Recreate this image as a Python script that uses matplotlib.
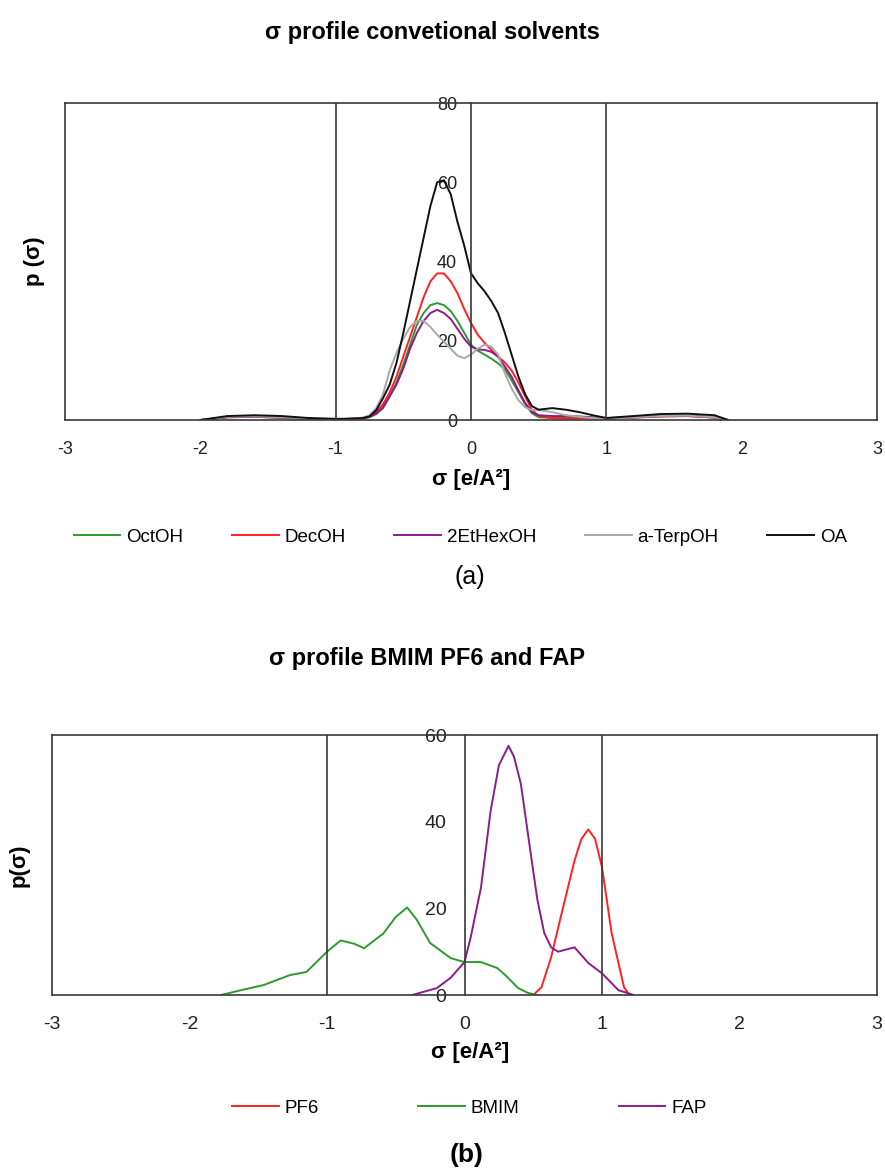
import matplotlib.pyplot as plt
from matplotlib.lines import Line2D

plt.rcParams['font.family'] = ['Liberation Sans', 'DejaVu Sans']

# ---- panel (a): conventional solvents ----
sigma_a = [-2.0, -1.8, -1.6, -1.4, -1.2, -1.0, -0.9, -0.8, -0.75, -0.7, -0.65, -0.6,
           -0.55, -0.5, -0.45, -0.4, -0.35, -0.3, -0.25, -0.2, -0.15, -0.1, -0.05, 0.0,
           0.05, 0.1, 0.15, 0.2, 0.25, 0.3, 0.35, 0.4, 0.45, 0.5, 0.6, 0.7, 0.8, 0.9,
           1.0, 1.2, 1.4, 1.6, 1.8, 1.9]
octoh = [0, 0.7, 0.8, 0.6, 0.3, 0.2, 0.3, 0.4, 0.7, 1.5, 3, 6,
         9.5, 14, 19, 24, 27, 29, 29.5, 29, 27.5, 25, 22, 19,
         17.5, 16.5, 15.5, 14.3, 12.8, 10, 7, 4, 1.7, 0.7, 0.5, 0.6, 0.6, 0.4,
         0.3, 0.6, 0.9, 1.0, 0.6, 0]
decoh = [0, 0.7, 0.8, 0.6, 0.3, 0.2, 0.3, 0.5, 0.8, 2, 4, 7,
         11, 16, 21, 26, 31, 35, 37, 37, 35, 32, 28, 24.5,
         21.5, 19.5, 17.7, 16, 14.5, 12.5, 9.5, 6, 2.5, 1, 0.5, 0.4, 0.4, 0.5,
         0.4, 0.6, 0.9, 1.0, 0.6, 0]
ethhex = [0, 0.7, 0.8, 0.6, 0.3, 0.2, 0.3, 0.4, 0.8, 1.6, 3.2, 6,
          9, 13, 18, 22, 25, 27, 27.8, 27, 25.5, 23, 20.5, 18.5,
          17.8, 17.7, 17.2, 16, 13.5, 10.9, 7.5, 4.3, 2, 1.2, 1.0, 1.0, 0.9, 0.7,
          0.5, 0.7, 1.0, 1.1, 0.7, 0]
terpoh = [0, 0.8, 0.9, 0.7, 0.4, 0.2, 0.3, 0.6, 1.2, 3, 6.5, 12.6,
          17, 20.5, 23.5, 25, 25, 23.5, 21.5, 19.8, 18, 16.2, 15.6, 16.5,
          18, 19, 18.5, 16.5, 11.8, 8, 5, 3.2, 2.5, 2.5, 2.0, 1.2, 0.8, 0.5,
          0.3, 0.7, 1.0, 1.1, 0.7, 0]
oa = [0, 1.0, 1.2, 1.0, 0.5, 0.3, 0.3, 0.5, 0.9, 2.5, 5.5, 9,
      14.5, 22, 30, 38, 46, 54, 60, 60.5, 57, 50, 44, 37,
      34.5, 32.5, 30, 27, 22, 16.5, 11, 6.5, 3.5, 2.6, 3.0, 2.6, 2.0, 1.2,
      0.5, 1.0, 1.5, 1.6, 1.2, 0]

names_a = ['OctOH', 'DecOH', '2EtHexOH', 'a-TerpOH', 'OA']
series_a = [octoh, decoh, ethhex, terpoh, oa]
colors_a = ['#2e9a2e', '#ff2020', '#8e1a8e', '#a8a8a8', '#101010']

# ---- panel (b): BMIM PF6 and FAP ----
sigma_pf6 = [0.5, 0.56, 0.63, 0.7, 0.8, 0.85, 0.9, 0.95, 1.0, 1.07, 1.16, 1.2]
pf6 = [0, 1.8, 8.7, 18, 31, 36, 38.2, 36, 29.5, 14.3, 1.8, 0]

sigma_bmim = [-1.77, -1.6, -1.46, -1.27, -1.15, -1.0, -0.9, -0.8, -0.73, -0.59,
              -0.5, -0.417, -0.35, -0.25, -0.1, 0.0, 0.12, 0.24, 0.3, 0.39, 0.46, 0.53]
bmim = [0, 1.3, 2.3, 4.6, 5.3, 10, 12.6, 11.8, 10.8, 14.2,
        18, 20.2, 17.5, 12, 8.5, 7.6, 7.6, 6.2, 4.5, 1.6, 0.5, 0]

sigma_fap = [-0.38, -0.2, -0.1, 0.0, 0.045, 0.12, 0.19, 0.25, 0.32, 0.36, 0.41,
             0.48, 0.53, 0.58, 0.63, 0.68, 0.74, 0.8, 0.9, 1.0, 1.12, 1.23]
fap = [0, 1.6, 4, 7.6, 13.3, 24.8, 42.5, 53, 57.5, 55, 48.7,
       33, 22, 14.3, 11, 10, 10.5, 11, 7.4, 5, 1.1, 0]

names_b = ['PF6', 'BMIM', 'FAP']
colors_b = ['#ff2020', '#2e9a2e', '#8e1a8e']

xticks = [-3, -2, -1, 0, 1, 2, 3]

W, H = 885, 1174
fig = plt.figure(figsize=(W / 100, H / 100), dpi=100)
frame = '#383838'


def setup(ax, ymax, yticks, fs, ypad):
    ax.set_xlim(-3, 3)
    ax.set_ylim(0, ymax)
    ax.spines['left'].set_position(('data', 0))
    for s in ax.spines.values():
        s.set_color(frame)
        s.set_linewidth(1.2)
    ax.axvline(-3, color=frame, lw=1.2, clip_on=False)
    for v in (-1, 1):
        ax.axvline(v, color=frame, lw=1.2)
    ax.set_xticks(xticks)
    ax.set_xticklabels([str(t) for t in xticks])
    ax.set_yticks(yticks)
    ax.tick_params(axis='x', length=0, pad=15, labelsize=fs, colors='#222222')
    ax.tick_params(axis='y', length=0, pad=ypad, labelsize=fs, colors='#222222')


# top panel
ax1 = fig.add_axes([65 / W, 1 - 420 / H, 812 / W, 317 / H])
for sig, name, c in zip(series_a, names_a, colors_a):
    ax1.plot(sigma_a, sig, color=c, lw=1.4, label=name)
setup(ax1, 80, [0, 20, 40, 60, 80], 13, 10)
ax1.set_xlabel('σ [e/A²]', fontsize=16, fontweight='bold')
ax1.xaxis.set_label_coords(0.5, -0.155)
ax1.set_ylabel('p (σ)', fontsize=16, fontweight='bold')
ax1.yaxis.set_label_coords(-0.025, 0.5)

fig.text(432 / W, 1 - 32 / H, 'σ profile convetional solvents',
         ha='center', va='center', fontsize=17, fontweight='bold')
h1 = [Line2D([], [], color=c, lw=1.4) for c in colors_a]
fig.legend(h1, names_a, loc='center', bbox_to_anchor=(0.52, 1 - 537 / H), ncol=5,
           frameon=False, fontsize=13.5, handlelength=2.5, handletextpad=0.3,
           columnspacing=2.6)
fig.text(470 / W, 1 - 577 / H, '(a)', ha='center', va='center', fontsize=18)

# bottom panel
ax2 = fig.add_axes([52 / W, 1 - 995 / H, 825 / W, 260 / H])
ax2.plot(sigma_pf6, pf6, color=colors_b[0], lw=1.4)
ax2.plot(sigma_bmim, bmim, color=colors_b[1], lw=1.4)
ax2.plot(sigma_fap, fap, color=colors_b[2], lw=1.4)
setup(ax2, 60, [0, 20, 40, 60], 14, 13)
ax2.set_xlabel('σ [e/A²]', fontsize=16, fontweight='bold')
ax2.xaxis.set_label_coords(0.507, -0.18)
ax2.set_ylabel('p(σ)', fontsize=16, fontweight='bold')
ax2.yaxis.set_label_coords(-0.027, 0.5)

fig.text(427 / W, 1 - 658 / H, 'σ profile BMIM PF6 and FAP',
         ha='center', va='center', fontsize=17, fontweight='bold')
h2 = [Line2D([], [], color=c, lw=1.4) for c in colors_b]
fig.legend(h2, names_b, loc='center', bbox_to_anchor=(0.530, 1 - 1108 / H), ncol=3,
           frameon=False, fontsize=13.5, handlelength=2.5, handletextpad=0.3,
           columnspacing=5.3)
fig.text(467 / W, 1 - 1155 / H, '(b)', ha='center', va='center', fontsize=19,
         fontweight='bold')

fig.savefig('out.png', dpi=100)
